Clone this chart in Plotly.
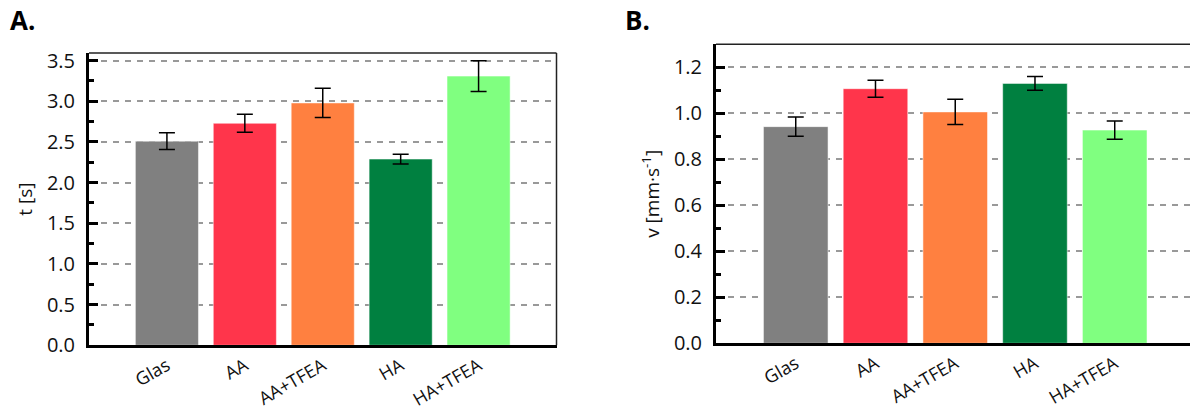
import plotly.graph_objects as go

categories = ["Glas", "AA", "AA+TFEA", "HA", "HA+TFEA"]
colors = ["#808080", "#FF354B", "#FF8040", "#008040", "#80FF80"]
t_values = [2.51, 2.73, 2.98, 2.29, 3.31]
t_errors = [0.104, 0.11, 0.18, 0.06, 0.19]
v_values = [0.942, 1.107, 1.006, 1.130, 0.927]
v_errors = [0.042, 0.037, 0.055, 0.030, 0.040]

W, H = 1190, 412
FONT = "Open Sans"
TXT = "#111111"

fig = go.Figure()
fig.add_trace(go.Bar(
    x=categories, y=t_values, xaxis="x", yaxis="y",
    marker=dict(color=colors, line=dict(color="rgba(255,255,255,0.5)", width=1)),
    error_y=dict(type="data", array=t_errors, color="black", thickness=1.5, width=8),
    showlegend=False,
))
fig.add_trace(go.Bar(
    x=categories, y=v_values, xaxis="x2", yaxis="y2",
    marker=dict(color=colors, line=dict(color="rgba(255,255,255,0.5)", width=1)),
    error_y=dict(type="data", array=v_errors, color="black", thickness=1.5, width=8),
    showlegend=False,
))

def py(px):
    return 1 - px / H

xdomA = [89 / W, 556.5 / W]
ydomA = [py(345.3), py(53)]
xdomB = [716 / W, 1.0]
ydomB = [py(343.3), py(44.3)]

xcommon = dict(
    type="category", showline=True, linecolor="black", linewidth=3,
    ticks="", tickangle=-30, tickfont=dict(family=FONT, size=18, color=TXT),
    showgrid=False, zeroline=False, automargin=False,
)
ycommon = dict(
    showline=True, linecolor="black", linewidth=3,
    ticks="inside", ticklen=9, tickwidth=3, tickcolor="black",
    tickfont=dict(family=FONT, size=20, color=TXT), ticklabelstandoff=7,
    showgrid=True, gridcolor="#999999", gridwidth=1.5, griddash="6px,6px",
    zeroline=False, automargin=False,
)

fig.update_layout(
    width=W, height=H, autosize=False, margin=dict(l=0, r=0, t=0, b=0, pad=0),
    plot_bgcolor="white", paper_bgcolor="white",
    bargap=0.19,
    xaxis=dict(xcommon, domain=xdomA, anchor="y", range=[-1, 5]),
    yaxis=dict(ycommon, domain=ydomA, anchor="x", range=[0, 3.594],
               dtick=0.5, tick0=0, tickformat=".1f",
               minor=dict(dtick=0.25, ticks="inside", ticklen=5, tickwidth=3,
                          tickcolor="black", showgrid=False),
               title=dict(text="t [s]", font=dict(family=FONT, size=19, color=TXT), standoff=10)),
    xaxis2=dict(xcommon, domain=xdomB, anchor="y2", range=[-1, 4.944]),
    yaxis2=dict(ycommon, domain=ydomB, anchor="x2", range=[0, 1.30],
                dtick=0.2, tick0=0, tickformat=".1f",
                minor=dict(dtick=0.1, ticks="inside", ticklen=5, tickwidth=3,
                           tickcolor="black", showgrid=False),
                title=dict(text="v [mm·s<sup>-1</sup>]", font=dict(family=FONT, size=19, color=TXT), standoff=10)),
)

# thin frame lines (top/right for A, top for B)
fig.add_shape(type="line", xref="x domain", yref="y domain", x0=0, x1=1, y0=1, y1=1,
              line=dict(color="#222", width=1.5))
fig.add_shape(type="line", xref="x domain", yref="y domain", x0=1, x1=1, y0=0, y1=1,
              line=dict(color="#222", width=1.5))
fig.add_shape(type="line", xref="x2 domain", yref="y2 domain", x0=0, x1=1, y0=1, y1=1,
              line=dict(color="#222", width=1.5))

fig.add_annotation(text="<b>A.</b>", xref="paper", yref="paper", x=8 / W, y=py(20),
                   xanchor="left", yanchor="middle", showarrow=False,
                   font=dict(family=FONT, size=26, color="black"))
fig.add_annotation(text="<b>B.</b>", xref="paper", yref="paper", x=623 / W, y=py(20),
                   xanchor="left", yanchor="middle", showarrow=False,
                   font=dict(family=FONT, size=26, color="black"))

fig.write_html(
    "out.html",
    config={"displayModeBar": False, "responsive": False},
    post_script="document.body.style.margin='0';document.documentElement.style.overflow='hidden';",
)
